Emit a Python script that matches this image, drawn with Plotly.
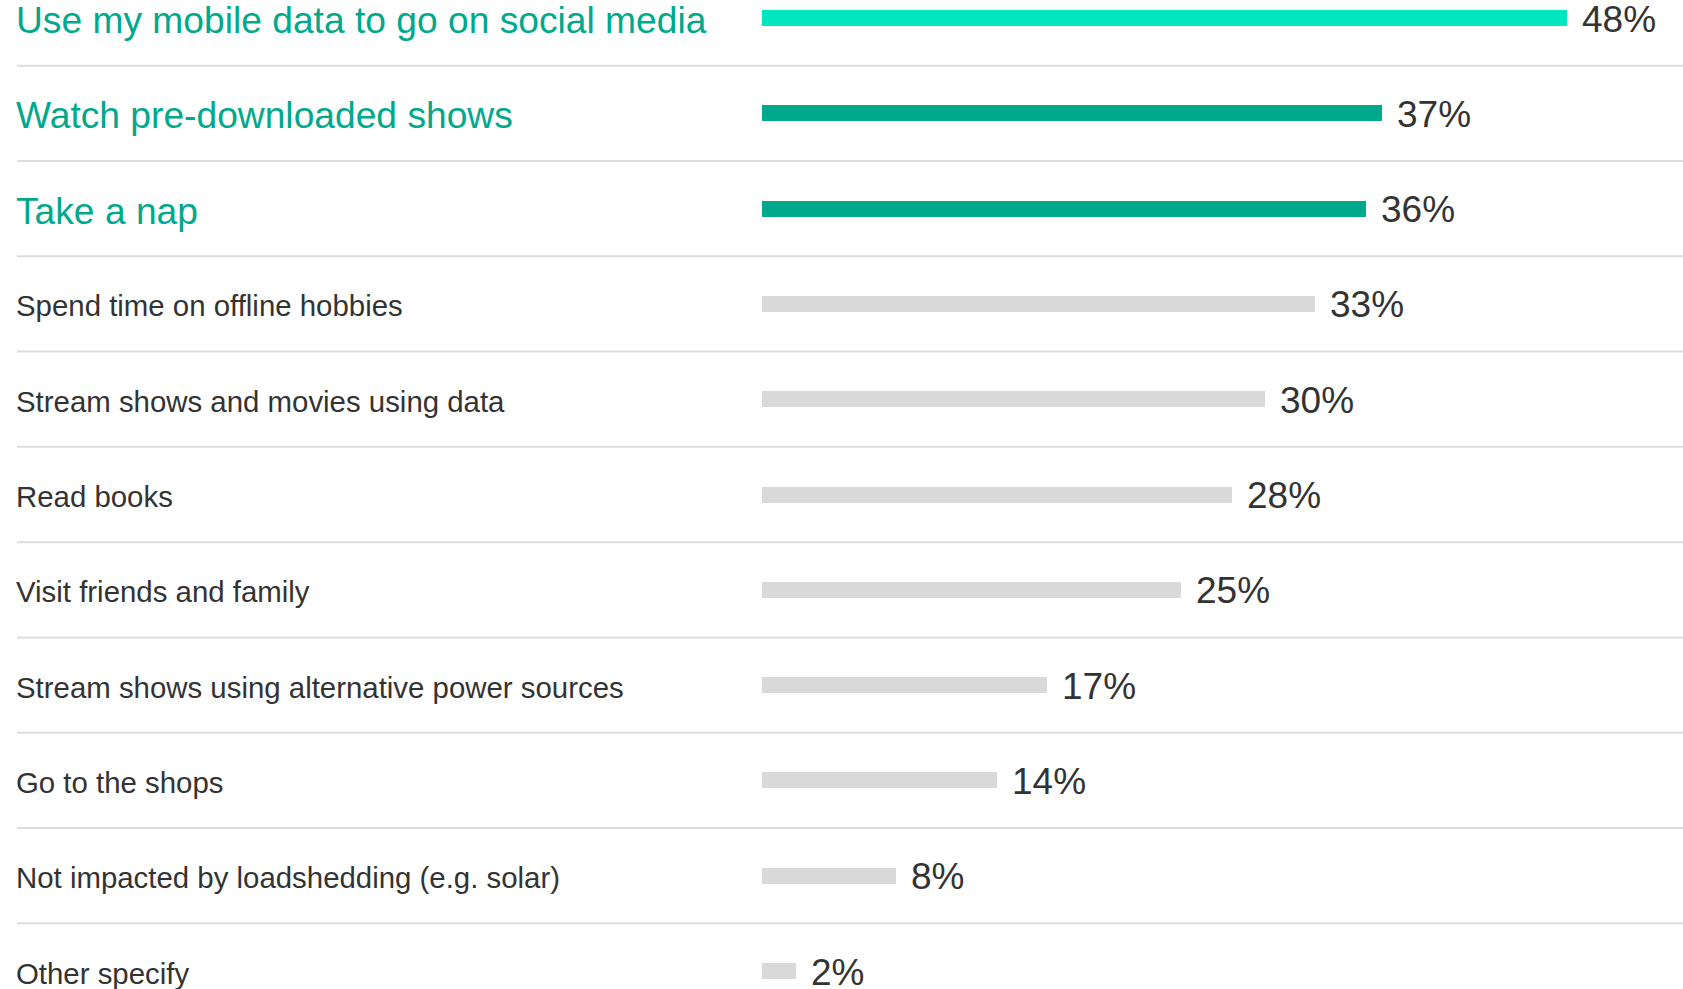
import plotly.graph_objects as go

# Survey responses: what people do during loadshedding
activities = [
    "Use my mobile data to go on social media",
    "Watch pre-downloaded shows",
    "Take a nap",
    "Spend time on offline hobbies",
    "Stream shows and movies using data",
    "Read books",
    "Visit friends and family",
    "Stream shows using alternative power sources",
    "Go to the shops",
    "Not impacted by loadshedding (e.g. solar)",
    "Other specify",
]
shares = [48, 37, 36, 33, 30, 28, 25, 17, 14, 8, 2]

TOP_COLOR = "#00E6BF"
HIGHLIGHT_COLOR = "#00A98B"
MUTED_COLOR = "#D9D9D9"
TEXT_DARK = "#333333"
RULE_COLOR = "#DDDDDD"
FONT = "Liberation Sans, Arial, sans-serif"

bar_colors = [TOP_COLOR, HIGHLIGHT_COLOR, HIGHLIGHT_COLOR] + [MUTED_COLOR] * (len(shares) - 3)
label_colors = [HIGHLIGHT_COLOR] * 3 + [TEXT_DARK] * (len(shares) - 3)
label_sizes = [37.2] * 3 + [29.4] * (len(shares) - 3)

W, H = 1683, 989
bar_left_px = 762
px_per_pct = 16.77
row_top_px = 18
row_pitch_px = 95.3

x_range = [-bar_left_px / px_per_pct, (W - bar_left_px) / px_per_pct]
y_range = [len(activities) - 1 + (H - row_top_px - (len(activities) - 1) * row_pitch_px) / row_pitch_px,
           -row_top_px / row_pitch_px]

fig = go.Figure(
    go.Bar(
        x=shares,
        y=activities,
        orientation="h",
        width=16 / row_pitch_px,
        marker=dict(color=bar_colors, line=dict(width=0)),
        hoverinfo="skip",
    )
)

# Value labels to the right of each bar
for name, v in zip(activities, shares):
    fig.add_annotation(
        x=v, xref="x", xanchor="left", xshift=13,
        y=name, yref="y", yanchor="middle", yshift=-1,
        text=f"{v}%", showarrow=False,
        font=dict(family=FONT, size=37, color=TEXT_DARK),
    )

# Left-aligned category labels
for name, col, size in zip(activities, label_colors, label_sizes):
    fig.add_annotation(
        x=17 / W, xref="paper", xanchor="left", xshift=-3,
        y=name, yref="y", yanchor="middle", yshift=-2,
        text=name, showarrow=False,
        font=dict(family=FONT, size=size, color=col),
    )

# Thin rules between rows
for i in range(len(activities) - 1):
    fig.add_shape(
        type="line", xref="paper", yref="y",
        x0=17 / W, x1=1, y0=i + 0.5, y1=i + 0.5,
        line=dict(color=RULE_COLOR, width=2),
        layer="below",
    )

fig.update_layout(
    width=W, height=H,
    margin=dict(l=0, r=0, t=0, b=0),
    paper_bgcolor="white", plot_bgcolor="white",
    showlegend=False,
    bargap=0,
    xaxis=dict(range=x_range, visible=False, fixedrange=True),
    yaxis=dict(range=y_range, visible=False, fixedrange=True, type="category"),
)

fig.write_html("out.html")
